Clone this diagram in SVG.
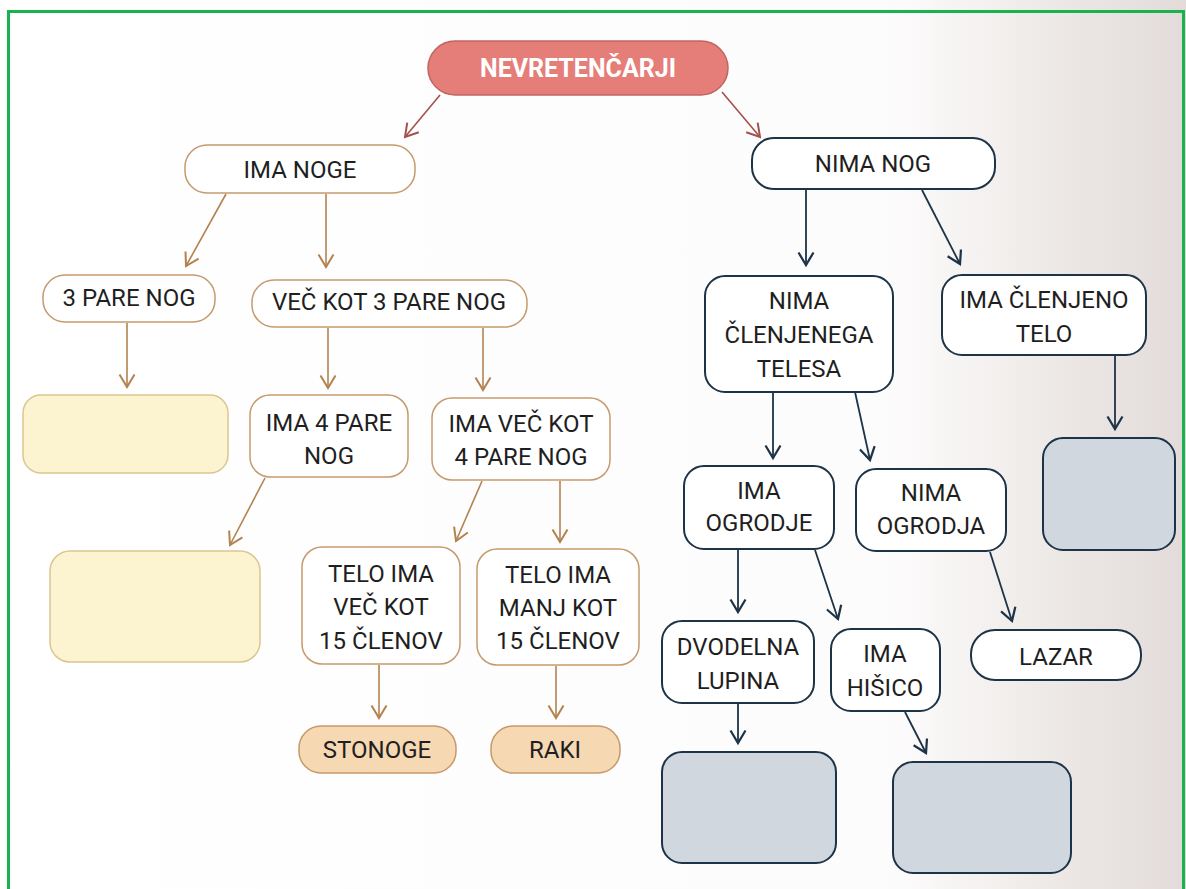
<svg xmlns="http://www.w3.org/2000/svg" width="1186" height="889" viewBox="0 0 1186 889">
  <defs>
    <linearGradient id="page" x1="0" y1="0" x2="1" y2="0">
      <stop offset="0" stop-color="#ffffff"/>
      <stop offset="0.75" stop-color="#fdfcfc"/>
      <stop offset="0.88" stop-color="#eeeae8"/>
      <stop offset="1" stop-color="#e2dbd9"/>
    </linearGradient>
    <marker id="mRed" markerUnits="userSpaceOnUse" markerWidth="20" markerHeight="20" viewBox="-12 -8 14 16" refX="0" refY="0" orient="auto">
      <path d="M-10,-6 L0,0 L-10,6" fill="none" stroke="#a5514c" stroke-width="1.6"/>
    </marker>
    <marker id="mBrown" markerUnits="userSpaceOnUse" markerWidth="20" markerHeight="20" viewBox="-12 -8 14 16" refX="0" refY="0" orient="auto">
      <path d="M-10,-6 L0,0 L-10,6" fill="none" stroke="#b3824f" stroke-width="1.6"/>
    </marker>
    <marker id="mNavy" markerUnits="userSpaceOnUse" markerWidth="20" markerHeight="20" viewBox="-12 -8 14 16" refX="0" refY="0" orient="auto">
      <path d="M-10,-6 L0,0 L-10,6" fill="none" stroke="#1d3347" stroke-width="1.8"/>
    </marker>
  </defs>
  <style>
    text { font-family: Roboto, "Liberation Sans", sans-serif; font-size: 24px; fill: #1f1f1f; text-anchor: middle; font-weight: 400; }
    .root rect { fill: #e57e79; stroke: #bf6560; stroke-width: 1.5; }
    .root text { fill: #ffffff; font-weight: 700; font-size: 25px; }
    .lw rect { fill: #ffffff; stroke: #c59a6c; stroke-width: 1.5; }
    .ly rect { fill: #fcf3d0; stroke: #dcc68f; stroke-width: 1.5; }
    .lo rect { fill: #f6d8b3; stroke: #c7996a; stroke-width: 1.5; }
    .rw rect { fill: #ffffff; stroke: #1d3347; stroke-width: 2; }
    .rg rect { fill: #d0d7df; stroke: #1d3347; stroke-width: 2; }
    .cr { stroke: #a5514c; stroke-width: 1.6; fill: none; marker-end: url(#mRed); }
    .cb { stroke: #b3824f; stroke-width: 1.6; fill: none; marker-end: url(#mBrown); }
    .cn { stroke: #1d3347; stroke-width: 1.8; fill: none; marker-end: url(#mNavy); }
  </style>

  <rect x="0" y="0" width="1186" height="889" fill="url(#page)"/>
  <rect x="8.5" y="11.5" width="1175" height="900" fill="none" stroke="#19b24f" stroke-width="3"/>

  <g id="connectors">
    <line class="cr" x1="440" y1="95" x2="405" y2="137"/>
    <line class="cr" x1="722" y1="92" x2="760" y2="137"/>
    <line class="cb" x1="226" y1="194" x2="186" y2="266"/>
    <line class="cb" x1="326" y1="194" x2="326" y2="267"/>
    <line class="cb" x1="127" y1="323" x2="127" y2="387"/>
    <line class="cb" x1="328" y1="328" x2="328" y2="388"/>
    <line class="cb" x1="483" y1="328" x2="483" y2="390"/>
    <line class="cb" x1="265" y1="478" x2="230" y2="545"/>
    <line class="cb" x1="482" y1="481" x2="456" y2="541"/>
    <line class="cb" x1="560" y1="481" x2="560" y2="542"/>
    <line class="cb" x1="379" y1="665" x2="379" y2="718"/>
    <line class="cb" x1="556" y1="666" x2="556" y2="718"/>
    <line class="cn" x1="806" y1="190" x2="806" y2="265"/>
    <line class="cn" x1="922" y1="190" x2="960" y2="264"/>
    <line class="cn" x1="773" y1="392" x2="773" y2="458"/>
    <line class="cn" x1="855" y1="392" x2="870" y2="460"/>
    <line class="cn" x1="1115" y1="356" x2="1115" y2="429"/>
    <line class="cn" x1="738" y1="550" x2="738" y2="612"/>
    <line class="cn" x1="815" y1="550" x2="838" y2="619"/>
    <line class="cn" x1="990" y1="552" x2="1012" y2="621"/>
    <line class="cn" x1="738" y1="704" x2="738" y2="743"/>
    <line class="cn" x1="905" y1="712" x2="926" y2="753"/>
  </g>

  <g id="n-root" class="root"><rect x="428" y="41" width="300" height="54" rx="27"/><text x="578" y="77">NEVRETENČARJI</text></g>

  <g id="n-ima-noge" class="lw"><rect x="185" y="145" width="230" height="48" rx="22"/><text x="300" y="178">IMA NOGE</text></g>
  <g id="n-3-pare" class="lw"><rect x="43" y="275" width="172" height="47" rx="22"/><text x="129" y="306">3 PARE NOG</text></g>
  <g id="n-vec-3" class="lw"><rect x="252" y="280" width="275" height="47" rx="22"/><text x="389" y="310">VEČ KOT 3 PARE NOG</text></g>
  <g id="n-y1" class="ly"><rect x="23" y="395" width="205" height="78" rx="18"/></g>
  <g id="n-ima-4" class="lw"><rect x="250" y="395" width="158" height="82" rx="20"/><text x="329" y="431">IMA 4 PARE</text><text x="329" y="464">NOG</text></g>
  <g id="n-ima-vec-4" class="lw"><rect x="432" y="398" width="178" height="82" rx="20"/><text x="521" y="432">IMA VEČ KOT</text><text x="521" y="465">4 PARE NOG</text></g>
  <g id="n-y2" class="ly"><rect x="50" y="551" width="210" height="111" rx="20"/></g>
  <g id="n-telo-vec" class="lw"><rect x="302" y="547" width="158" height="117" rx="20"/><text x="381" y="582">TELO IMA</text><text x="381" y="615">VEČ KOT</text><text x="381" y="649">15 ČLENOV</text></g>
  <g id="n-telo-manj" class="lw"><rect x="477" y="549" width="162" height="116" rx="20"/><text x="558" y="583">TELO IMA</text><text x="558" y="616">MANJ KOT</text><text x="558" y="649">15 ČLENOV</text></g>
  <g id="n-stonoge" class="lo"><rect x="299" y="726" width="157" height="47" rx="22"/><text x="377" y="758">STONOGE</text></g>
  <g id="n-raki" class="lo"><rect x="491" y="726" width="129" height="47" rx="22"/><text x="555" y="758">RAKI</text></g>

  <g id="n-nima-nog" class="rw"><rect x="752" y="138" width="243" height="51" rx="22"/><text x="873" y="172">NIMA NOG</text></g>
  <g id="n-nima-clen" class="rw"><rect x="705" y="276" width="188" height="116" rx="20"/><text x="799" y="309">NIMA</text><text x="799" y="343">ČLENJENEGA</text><text x="799" y="377">TELESA</text></g>
  <g id="n-ima-clen" class="rw"><rect x="942" y="275" width="204" height="80" rx="20"/><text x="1044" y="308">IMA ČLENJENO</text><text x="1044" y="342">TELO</text></g>
  <g id="n-g1" class="rg"><rect x="1043" y="438" width="132" height="112" rx="20"/></g>
  <g id="n-ima-ogr" class="rw"><rect x="684" y="466" width="150" height="83" rx="20"/><text x="759" y="499">IMA</text><text x="759" y="531">OGRODJE</text></g>
  <g id="n-nima-ogr" class="rw"><rect x="856" y="469" width="150" height="82" rx="20"/><text x="931" y="501">NIMA</text><text x="931" y="534">OGRODJA</text></g>
  <g id="n-dvod" class="rw"><rect x="662" y="621" width="152" height="82" rx="20"/><text x="738" y="655">DVODELNA</text><text x="738" y="689">LUPINA</text></g>
  <g id="n-hisico" class="rw"><rect x="831" y="629" width="109" height="82" rx="20"/><text x="885" y="662">IMA</text><text x="885" y="696">HIŠICO</text></g>
  <g id="n-lazar" class="rw"><rect x="971" y="630" width="170" height="50" rx="24"/><text x="1056" y="665">LAZAR</text></g>
  <g id="n-g2" class="rg"><rect x="662" y="752" width="174" height="111" rx="20"/></g>
  <g id="n-g3" class="rg"><rect x="893" y="762" width="178" height="111" rx="20"/></g>
</svg>
